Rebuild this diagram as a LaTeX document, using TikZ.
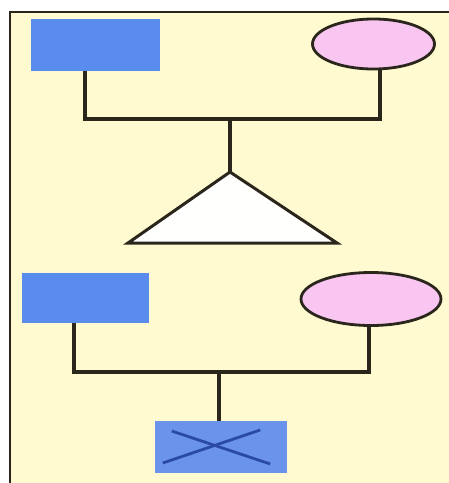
\documentclass[tikz,border=0pt]{standalone}
\usetikzlibrary{shapes.geometric}
\definecolor{bgyellow}{HTML}{FFFAD0}
\definecolor{boxblue}{HTML}{5A8CEE}
\definecolor{boxblue2}{HTML}{6A94EC}
\definecolor{pinkfill}{HTML}{F8C6F0}
\definecolor{linedark}{HTML}{2A261C}
\definecolor{xblue}{HTML}{2A4AA6}
\begin{document}
\begin{tikzpicture}[x=1pt,y=-1pt,
  conn/.style={draw=linedark,line width=4pt},
  malebox/.style={draw=none,fill=boxblue,minimum width=#1,inner sep=0pt},
  femaleell/.style={ellipse,draw=linedark,line width=2.8pt,fill=pinkfill,inner sep=0pt},
]
\useasboundingbox (0,0) rectangle (449,483);
\fill[white] (0,0) rectangle (449,483);
\fill[bgyellow] (10,12) rectangle (449,483);
\draw[linedark,line width=2.6pt] (10,483) -- (10,12) -- (449,12);
% top family
\node[malebox=129pt,minimum height=52pt] (m1) at (95.5,45) {};
\node[femaleell,minimum width=122pt,minimum height=50pt] (f1) at (373.5,44) {};
\coordinate (j1l) at (85,119);
\coordinate (j1r) at (380,119);
\coordinate (j1c) at (230,119);
\coordinate (t1) at (230,172);
\coordinate (t2) at (337,243);
\coordinate (t3) at (128,243);
\path[fill=white!96!bgyellow,draw=linedark,line width=3pt,line join=miter] (t1) -- (t2) -- (t3) -- cycle;
\draw[conn] (m1.south -| j1l) -- (j1l) -- (j1r) -- (f1.south -| j1r);
\draw[conn] (j1c) -- (t1);
% bottom family
\node[malebox=127pt,minimum height=50pt] (m2) at (85.5,298) {};
\node[femaleell,minimum width=140pt,minimum height=53pt] (f2) at (371,299) {};
\coordinate (j2l) at (74,372);
\coordinate (j2r) at (369,372);
\coordinate (j2c) at (219,372);
\node[draw=none,fill=boxblue2,minimum width=132pt,minimum height=52pt,inner sep=0pt] (c2) at (221,447) {};
\draw[conn] (m2.south -| j2l) -- (j2l) -- (j2r) -- (f2.south -| j2r);
\draw[conn] (j2c) -- (c2.north -| j2c);
\draw[xblue,line width=2.8pt] ([shift={(8pt,-16pt)}]c2.center -| c2.west) -- ([shift={(-27pt,17pt)}]c2.center -| c2.east);
\draw[xblue,line width=2.8pt] ([shift={(17pt,16pt)}]c2.center -| c2.west) -- ([shift={(-17pt,-17pt)}]c2.center -| c2.east);
\end{tikzpicture}
\end{document}
